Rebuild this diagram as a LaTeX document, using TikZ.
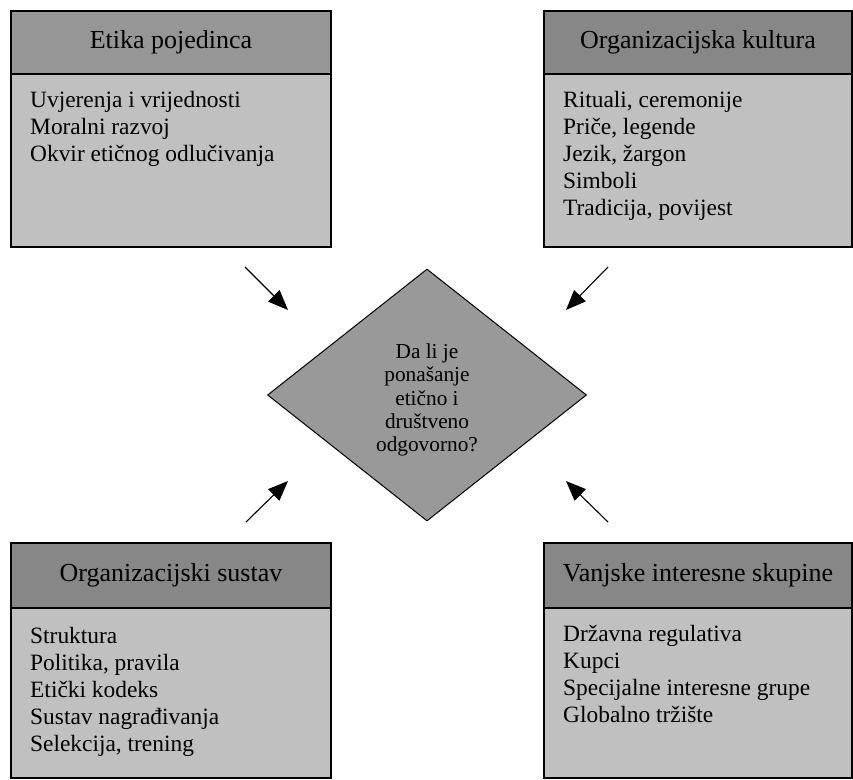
\documentclass[tikz,border=0pt]{standalone}
\usepackage{fontspec}
\setmainfont{Liberation Serif}
\usepackage{xcolor}
\usetikzlibrary{arrows.meta,positioning,shapes.geometric}
\definecolor{glavaboja}{HTML}{878787}
\definecolor{glavasvijetla}{HTML}{969696}
\definecolor{tijeloboja}{HTML}{C0C0C0}
\definecolor{rombboja}{HTML}{999999}

\begin{document}
\begin{tikzpicture}[
  x=1pt,y=-1pt,
  glava/.style={draw,line width=1.2pt,fill=glavaboja,minimum height=63pt,inner sep=0pt,outer sep=0pt,anchor=north west,font=\fontsize{26}{30}\selectfont},
  tijelo/.style={draw,line width=1.2pt,fill=tijeloboja,inner sep=0pt,outer sep=0pt},
  popis/.style={align=left,inner sep=0pt,font=\fontsize{23.4}{27}\selectfont},
  odluka/.style={diamond,draw,line width=1pt,fill=rombboja,minimum width=319pt,minimum height=252pt,inner sep=0pt,align=center,font=\fontsize{21.3}{23.3}\selectfont},
  >={Triangle[length=20pt,width=16pt]}
]
\useasboundingbox (0,0) rectangle (853,779);
% gornji lijevi
\node[glava,fill=glavasvijetla,minimum width=320pt] (etika) at (11,11) {Etika pojedinca};
\node[tijelo,minimum width=320pt,minimum height=173pt,below=0pt of etika] (etikab) {};
\node[popis,below right=17pt and 19pt of etikab.north west] (etikat) {Uvjerenja i vrijednosti\\Moralni razvoj\\Okvir etičnog odlučivanja};
% gornji desni
\node[glava,minimum width=308pt] (kultura) at (544,11) {Organizacijska kultura};
\node[tijelo,minimum width=308pt,minimum height=173pt,below=0pt of kultura] (kulturab) {};
\node[popis,below right=17pt and 19pt of kulturab.north west] (kulturat) {Rituali, ceremonije\\Priče, legende\\Jezik, žargon\\Simboli\\Tradicija, povijest};
% donji lijevi
\node[glava,minimum width=320pt,minimum height=65pt] (sustav) at (11,543) {Organizacijski sustav};
\node[tijelo,minimum width=320pt,minimum height=170pt,below=0pt of sustav] (sustavb) {};
\node[popis,below right=19pt and 19pt of sustavb.north west] (sustavt) {Struktura\\Politika, pravila\\Etički kodeks\\Sustav nagrađivanja\\Selekcija, trening};
% donji desni
\node[glava,minimum width=308pt,minimum height=65pt] (skupine) at (544,543) {Vanjske interesne skupine};
\node[tijelo,minimum width=308pt,minimum height=170pt,below=0pt of skupine] (skupineb) {};
\node[popis,below right=17pt and 19pt of skupineb.north west] (skupinet) {Državna regulativa\\Kupci\\Specijalne interesne grupe\\Globalno tržište};
% romb
\node[odluka] (pitanje) at (427,395) {\rule{0pt}{25pt}Da li je\\ponašanje\\etično i\\društveno\\odgovorno?};
% strelice
\coordinate (s1) at (245,267);
\coordinate (k1) at (288,310);
\coordinate (s2) at (608,267);
\coordinate (k2) at (566,310);
\coordinate (s3) at (246,522);
\coordinate (k3) at (288,481);
\coordinate (s4) at (608,522);
\coordinate (k4) at (566,481);
\draw[->,line width=1.1pt] (s1) -- (k1);
\draw[->,line width=1.1pt] (s2) -- (k2);
\draw[->,line width=1.1pt] (s3) -- (k3);
\draw[->,line width=1.1pt] (s4) -- (k4);
\end{tikzpicture}
\end{document}
